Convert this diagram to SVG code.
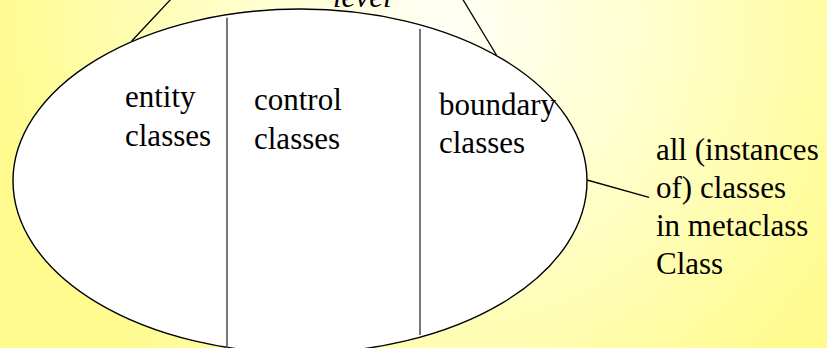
<svg xmlns="http://www.w3.org/2000/svg" width="827" height="348" viewBox="0 0 827 348">
<defs>
<radialGradient id="bg" gradientUnits="userSpaceOnUse" cx="450" cy="30" r="460">
<stop offset="0" stop-color="#FFFFF6"/>
<stop offset="0.45" stop-color="#FFFFCC"/>
<stop offset="1" stop-color="#FFFB8E"/>
</radialGradient>
<style>
.t{font-family:'Liberation Serif','Times New Roman',serif;font-size:31px;fill:#000}
.it{font-style:italic}
.div{stroke:#555;stroke-width:1.6;fill:none}
.ln{stroke:#000;stroke-width:1.3;fill:none}
</style>
</defs>
<rect width="827" height="348" fill="url(#bg)"/>
<g id="level-label">
<text class="t it" font-family="Liberation Serif, serif" x="333" y="7">level</text>
</g>
<g id="connectors">
<line class="ln" x1="131.7" y1="41" x2="172" y2="-2"/>
<line class="ln" x1="462" y1="-2" x2="496.7" y2="55.5"/>
<line class="ln" x1="587" y1="180" x2="649" y2="197.3"/>
</g>
<g id="all-classes">
<ellipse cx="300" cy="181" rx="287" ry="172" fill="#fff" stroke="#000" stroke-width="1.4"/>
</g>
<g id="dividers">
<line class="div" x1="227" y1="17.7" x2="227" y2="348"/>
<line class="div" x1="420" y1="28.7" x2="420" y2="335"/>
</g>
<g id="entity" font-family="Liberation Serif, serif">
<text class="t" x="125" y="107">entity</text>
<text class="t" x="125" y="145.5">classes</text>
</g>
<g id="control" font-family="Liberation Serif, serif">
<text class="t" x="254" y="110">control</text>
<text class="t" x="254" y="148.5">classes</text>
</g>
<g id="boundary" font-family="Liberation Serif, serif">
<text class="t" x="439" y="115">boundary</text>
<text class="t" x="439" y="153">classes</text>
</g>
<g id="metaclass-label" font-family="Liberation Serif, serif">
<text class="t" x="656" y="160">all (instances</text>
<text class="t" x="656" y="198">of) classes</text>
<text class="t" x="656" y="236">in metaclass</text>
<text class="t" x="656" y="274">Class</text>
</g>
</svg>
